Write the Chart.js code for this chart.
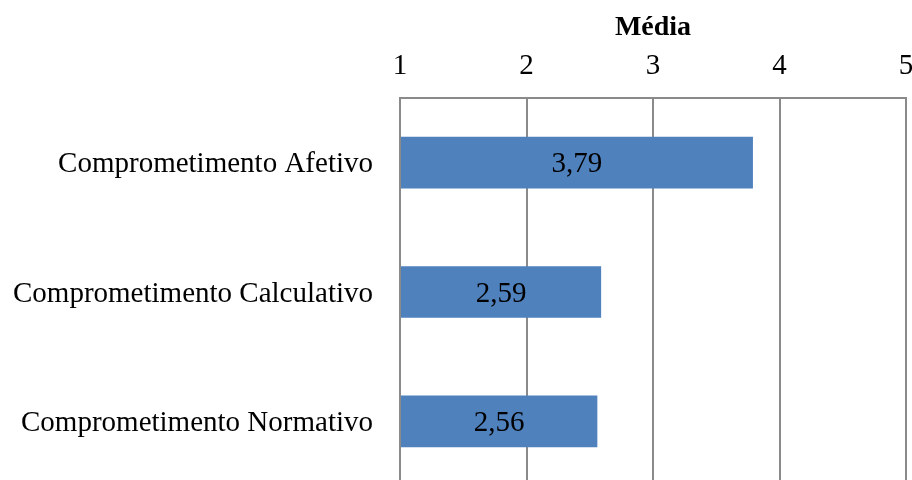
<!DOCTYPE html>
<html>
<head>
<meta charset="utf-8">
<script src="https://cdn.jsdelivr.net/npm/chart.js@4/dist/chart.umd.min.js"></script>
<style>
  html, body { margin: 0; padding: 0; overflow: hidden; background: #ffffff; }
  #wrap { width: 912px; height: 486px; position: relative; }
</style>
</head>
<body>
<div id="wrap"><canvas id="chart" width="912" height="486"></canvas></div>
<script>
// Mean score for each commitment dimension (scale 1–5)
const categories = ['Comprometimento Afetivo', 'Comprometimento Calculativo', 'Comprometimento Normativo'];
const medias = [3.79, 2.59, 2.56];
const axisTicks = [1, 2, 3, 4, 5];
const axisTitle = 'Média';

const SERIF = '"Liberation Serif", "Times New Roman", Times, serif';
const GRID = '#8a8a8a';

// Keep the plot box fixed: no extra room reserved for edge labels
function fixBox(scale, w, h) {
  if (w !== null) scale.width = w;
  if (h !== null) scale.height = h;
  scale.paddingLeft = 0;
  scale.paddingRight = 0;
  scale.paddingTop = 0;
  scale.paddingBottom = 0;
}

// Writes the value inside each bar, with a decimal comma
const valueLabels = {
  id: 'valueLabels',
  afterDatasetsDraw(chart) {
    const ctx = chart.ctx;
    const meta = chart.getDatasetMeta(0);
    ctx.save();
    ctx.font = '29px ' + SERIF;
    ctx.fillStyle = '#000000';
    ctx.textAlign = 'center';
    ctx.textBaseline = 'middle';
    meta.data.forEach((bar, i) => {
      const v = chart.data.datasets[0].data[i];
      ctx.fillText(v.toFixed(2).replace('.', ','), (bar.x + bar.base) / 2, bar.y + 2);
    });
    ctx.restore();
  }
};

new Chart(document.getElementById('chart'), {
  type: 'bar',
  data: {
    labels: categories,
    datasets: [{
      data: medias,
      base: axisTicks[0],
      backgroundColor: '#4f81bd',
      borderWidth: 0,
      categoryPercentage: 1,
      barPercentage: 0.4
    }]
  },
  options: {
    indexAxis: 'y',
    responsive: false,
    animation: false,
    devicePixelRatio: 1,
    layout: { padding: { top: 0, left: 0, right: 6, bottom: 0 } },
    plugins: {
      legend: { display: false },
      tooltip: { enabled: false }
    },
    scales: {
      x: {
        position: 'top',
        min: axisTicks[0],
        max: axisTicks[axisTicks.length - 1],
        afterBuildTicks(scale) { scale.ticks = axisTicks.map(v => ({ value: v })); },
        afterFit(scale) { fixBox(scale, null, 98); },
        grid: { color: GRID, lineWidth: 2, drawTicks: false },
        border: { color: GRID, width: 2 },
        ticks: {
          color: '#000000',
          font: { family: SERIF, size: 29 },
          padding: 14,
          maxRotation: 0,
          callback: v => String(v)
        },
        title: {
          display: true,
          text: axisTitle,
          color: '#000000',
          font: { family: SERIF, size: 28, weight: 'bold' },
          padding: { top: 11, bottom: 0 }
        }
      },
      y: {
        afterFit(scale) { fixBox(scale, 400, null); },
        grid: { display: false, drawTicks: false },
        border: { color: GRID, width: 2 },
        ticks: {
          color: '#000000',
          font: { family: SERIF, size: 29 },
          padding: 27,
          labelOffset: 2
        }
      }
    }
  },
  plugins: [valueLabels]
});
</script>
</body>
</html>
